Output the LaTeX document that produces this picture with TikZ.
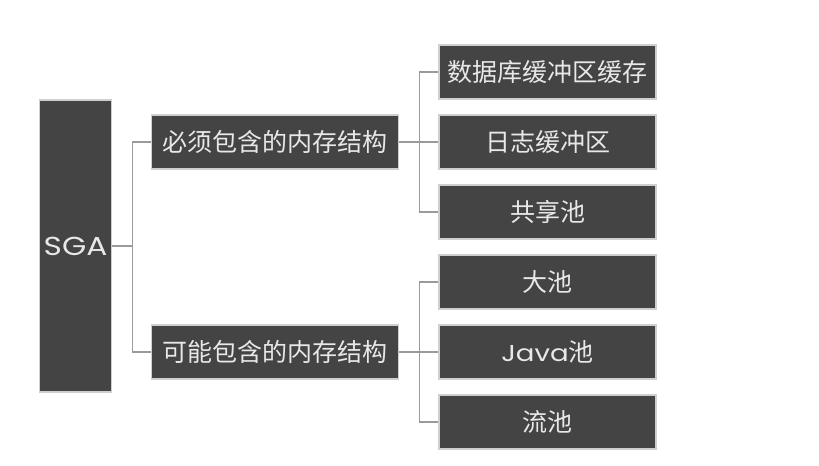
\documentclass[tikz,border=0pt]{standalone}
\usepackage{fontspec}
\setmainfont{Poppins}
\newfontfamily\cjk{Noto Sans CJK SC}
\newfontfamily\latinface[FakeStretch=1.2]{Poppins}
\definecolor{boxfill}{HTML}{444444}
\definecolor{boxedge}{HTML}{CFCFCF}
\definecolor{boxtext}{HTML}{E8E8E8}
\definecolor{linkcol}{HTML}{9A9A9A}
\begin{document}
\begin{tikzpicture}[x=1bp,y=-1bp,
  box/.style={draw=boxedge,line width=1.2bp,fill=boxfill,text=boxtext,
    inner sep=0pt,anchor=center},
  midbox/.style={box,minimum width=247bp,minimum height=54bp,
    font=\cjk\fontsize{25bp}{30bp}\selectfont},
  leafbox/.style={box,minimum width=217bp,minimum height=54bp,
    font=\cjk\fontsize{25bp}{30bp}\selectfont},
  link/.style={draw=linkcol,line width=1.1bp}]
\useasboundingbox (0,0) rectangle (819,466);
\fill[white] (0,0) rectangle (819,466);

% root
\node[box,minimum width=72bp,minimum height=292bp,
  font=\latinface\fontsize{26bp}{30bp}\selectfont] (sga) at (75.5,246) {SGA};

% second level
\node[midbox] (must) at (275,142) {必须包含的内存结构};
\node[midbox] (may)  at (275,352) {可能包含的内存结构};

% leaves
\node[leafbox] (dbc)   at (547.5,72)  {数据库缓冲区缓存};
\node[leafbox] (redo)  at (547.5,142) {日志缓冲区};
\node[leafbox] (shp)   at (547.5,212) {共享池};
\node[leafbox] (lrg)   at (547.5,282) {大池};
\node[leafbox] (java)  at (547.5,352) {{\latinface\fontsize{23bp}{27bp}\selectfont Java}池};
\node[leafbox] (strm)  at (547.5,422) {流池};

% connectors
\draw[link] (sga.east) -- ++(20.5,0) coordinate (j0);
\draw[link] (j0) |- (must.west);
\draw[link] (j0) |- (may.west);

\draw[link] (must.east) -- ++(20,0) coordinate (j1);
\draw[link] (j1) |- (dbc.west);
\draw[link] (j1) -- (redo.west);
\draw[link] (j1) |- (shp.west);

\draw[link] (may.east) -- ++(20,0) coordinate (j2);
\draw[link] (j2) |- (lrg.west);
\draw[link] (j2) -- (java.west);
\draw[link] (j2) |- (strm.west);
\end{tikzpicture}
\end{document}
